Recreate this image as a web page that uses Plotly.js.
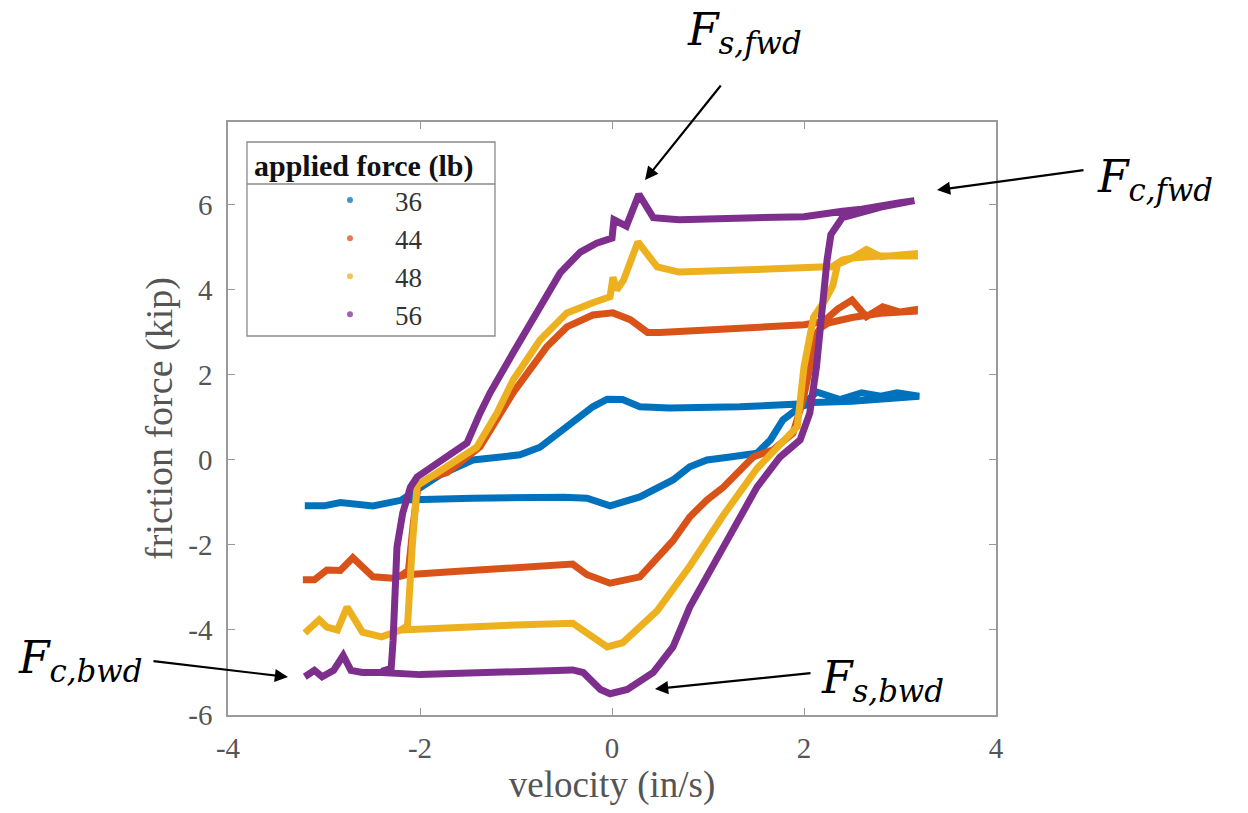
<!DOCTYPE html>
<html>
<head>
<meta charset="utf-8">
<script src="https://cdn.plot.ly/plotly-3.0.1.min.js"></script>
<style>html,body{margin:0;padding:0;background:#fff;}#chart{width:1248px;height:813px;}</style>
</head>
<body>
<div id="chart"></div>
<script>
// ---- data ----
const seriesNames = ['36', '44', '48', '56'];
const seriesColors = ['#0072BD', '#D95319', '#EDB120', '#7E2F8E'];

// 36 lb: upper branch then return (lower) branch
const x36 = [-2.2,-1.79,-1.45,-0.96,-0.75,-0.41,-0.2,-0.05,0.11,0.29,0.6,1.33,2.0,2.13,2.375,2.6,2.8,2.97,3.2,
             3.2,2.5,2.1,1.96,1.78,1.65,1.51,1.23,0.99,0.81,0.635,0.29,-0.02,-0.26,-0.5,-1.45,-2.18,-2.49,-2.83,-3.0,-3.2];
const y36 = [-0.95,-0.35,0.0,0.12,0.3,0.9,1.25,1.43,1.42,1.25,1.22,1.25,1.32,1.6,1.42,1.58,1.5,1.58,1.53,
             1.5,1.38,1.35,1.25,0.94,0.47,0.16,0.07,0.0,-0.16,-0.47,-0.87,-1.08,-0.9,-0.88,-0.9,-0.94,-1.08,-1.0,-1.08,-1.08];

// 44 lb
const x44 = [-2.2,-2.12,-2.07,-2.02,-1.9,-1.72,-1.375,-1.03,-0.68,-0.47,-0.2,0.01,0.19,0.37,0.5,1.0,1.5,2.0,2.2,2.35,2.5,2.65,2.82,3.0,3.15,
             3.15,2.8,2.5,2.25,2.17,2.135,2.07,1.99,1.885,1.68,1.47,1.16,0.99,0.81,0.635,0.29,-0.02,-0.26,-0.41,-1.0,-1.6,-2.14,-2.28,-2.49,-2.7,-2.83,-2.97,-3.1,-3.22];
const y44 = [-2.72,-2.6,-1.5,-0.6,-0.42,-0.3,0.31,1.58,2.66,3.13,3.41,3.46,3.3,3.0,3.0,3.05,3.1,3.18,3.25,3.55,3.76,3.37,3.6,3.48,3.53,
             3.5,3.45,3.35,3.22,3.1,2.99,2.2,1.41,0.63,0.24,0.07,-0.64,-0.94,-1.34,-1.9,-2.75,-2.9,-2.7,-2.45,-2.52,-2.62,-2.7,-2.78,-2.75,-2.3,-2.6,-2.59,-2.82,-2.82];

// 48 lb
const x48 = [-2.2,-2.13,-2.08,-2.03,-1.82,-1.6,-1.41,-1.2,-1.03,-0.75,-0.47,-0.2,-0.02,0.01,0.05,0.12,0.27,0.47,0.7,1.5,2.0,2.3,2.4,2.5,2.65,2.8,3.0,3.15,
             3.15,2.8,2.5,2.35,2.3,2.22,2.1,2.0,1.93,1.73,1.51,1.16,0.81,0.47,0.11,-0.05,-0.3,-0.41,-1.0,-2.0,-2.2,-2.4,-2.6,-2.76,-2.86,-2.97,-3.05,-3.2];
const y48 = [-4.0,-3.9,-2.0,-0.6,-0.3,0.0,0.3,1.1,1.88,2.82,3.46,3.7,3.84,4.3,4.0,4.23,5.13,4.54,4.42,4.48,4.52,4.55,4.7,4.75,4.95,4.78,4.82,4.85,
             4.8,4.8,4.75,4.6,4.1,3.76,3.36,2.19,0.78,0.31,-0.2,-1.3,-2.5,-3.55,-4.3,-4.4,-4.0,-3.84,-3.88,-3.98,-4.0,-4.16,-4.05,-3.46,-4.0,-3.93,-3.76,-4.07];

// 56 lb
const x56 = [-2.4,-2.3,-2.28,-2.24,-2.18,-2.1,-2.03,-1.72,-1.51,-1.375,-1.27,-1.03,-0.78,-0.54,-0.33,-0.16,0.0,0.02,0.15,0.28,0.43,0.7,1.5,2.0,2.4,2.6,3.0,3.15,
             3.15,2.8,2.4,2.28,2.24,2.17,2.13,2.06,1.96,1.75,1.51,1.16,0.81,0.635,0.43,0.16,-0.02,-0.12,-0.3,-0.41,-1.0,-2.0,-2.4,-2.6,-2.72,-2.8,-2.9,-3.02,-3.1,-3.2];
const y56 = [-4.97,-4.9,-4.24,-2.05,-1.25,-0.64,-0.4,0.07,0.4,1.1,1.58,2.52,3.46,4.4,4.89,5.1,5.22,5.65,5.5,6.25,5.7,5.65,5.7,5.72,5.85,5.9,6.05,6.1,
             6.1,5.95,5.7,5.3,4.7,3.13,2.19,1.1,0.47,0.07,-0.64,-2.05,-3.46,-4.4,-5.0,-5.4,-5.5,-5.4,-5.0,-4.94,-4.97,-5.05,-5.0,-5.0,-4.95,-4.6,-4.95,-5.1,-4.95,-5.1];

const xTickVals = [-4, -2, 0, 2, 4];
const xTickText = ['-4', '-2', '0', '2', '4'];
const yTickVals = [-6, -4, -2, 0, 2, 4, 6];
const yTickText = ['-6', '-4', '-2', '0', '2', '4', '6'];

const seriesX = [x36, x44, x48, x56];
const seriesY = [y36, y44, y48, y56];

// ---- build ----
const FONT = 'Liberation Serif';
const traces = [];
seriesNames.forEach((n, i) => {
  traces.push({
    x: seriesX[i], y: seriesY[i], type: 'scatter', mode: 'lines',
    line: {color: seriesColors[i], width: 7},
    showlegend: false, hoverinfo: 'skip'
  });
});
seriesNames.forEach((n, i) => {
  traces.push({
    x: [null], y: [null], type: 'scatter', mode: 'markers', name: n,
    legendgroup: 'g' + i,
    marker: {color: seriesColors[i], size: 6, opacity: 0.75}
  });
});

// plot area in pixels
const L = 228, R = 996, T = 122, B = 715;
const px = v => (v - L) / (R - L);
const py = v => (B - v) / (B - T);

function arrow(tx, ty, hx, hy) {
  return {xref: 'paper', yref: 'paper', x: px(hx), y: py(hy), ax: tx - hx, ay: ty - hy,
          showarrow: true, arrowhead: 2, arrowsize: 1.2, arrowwidth: 2.2, arrowcolor: '#000', text: ''};
}
function label(txt, cx, cy) {
  return {xref: 'paper', yref: 'paper', x: px(cx), y: py(cy), xanchor: 'center', yanchor: 'middle',
          showarrow: false, text: txt, font: {family: 'DejaVu Serif', size: 44, color: '#000'}};
}

const axisCommon = {
  showline: true, linecolor: '#9a9a9a', linewidth: 1.5, mirror: 'ticks',
  ticks: 'inside', ticklen: 7, tickcolor: '#9a9a9a', tickwidth: 1,
  showgrid: false, zeroline: false,
  tickfont: {family: FONT, size: 29, color: '#555'}
};

const layout = {
  width: 1248, height: 813,
  margin: {l: L, r: 1248 - R, t: T, b: 813 - B},
  paper_bgcolor: '#fff', plot_bgcolor: '#fff',
  font: {family: FONT},
  xaxis: Object.assign({}, axisCommon, {
    range: [-4, 4], tickvals: xTickVals, ticktext: xTickText, ticklabelstandoff: 6,
    title: {text: 'velocity (in/s)', font: {family: FONT, size: 37, color: '#555'}, standoff: 3}
  }),
  yaxis: Object.assign({}, axisCommon, {
    range: [-6, 7.95], tickvals: yTickVals, ticktext: yTickText, ticklabelstandoff: 8,
    title: {text: 'friction force (kip)', font: {family: FONT, size: 38, color: '#555'}, standoff: 4}
  }),
  legend: {
    x: px(252), y: py(137), xanchor: 'left', yanchor: 'top',
    bgcolor: 'rgba(0,0,0,0)', borderwidth: 0,
    title: {text: '<b>applied force (lb)</b>', side: 'top', font: {family: FONT, size: 30, color: '#111'}},
    font: {family: FONT, size: 27, color: '#333'},
    traceorder: 'grouped', tracegroupgap: 0, indentation: 53, itemwidth: 80
  },
  shapes: [
    {type: 'rect', xref: 'paper', yref: 'paper', x0: px(247), x1: px(495), y0: py(142), y1: py(336),
     fillcolor: '#fff', line: {color: '#8a8a8a', width: 1.3}, layer: 'above'},
    {type: 'line', xref: 'paper', yref: 'paper', x0: px(247), x1: px(495), y0: py(184), y1: py(184),
     line: {color: '#8a8a8a', width: 1.3}, layer: 'above'}
  ],
  annotations: [
    arrow(722, 84, 645, 180),
    arrow(1085, 170, 937, 190),
    arrow(152, 661, 288, 677),
    arrow(812, 673, 655, 689),
    label('<i>F</i><sub><i>s,fwd</i></sub>', 744, 33),
    label('<i>F</i><sub><i>c,fwd</i></sub>', 1155, 180),
    label('<i>F</i><sub><i>c,bwd</i></sub>', 80, 660),
    label('<i>F</i><sub><i>s,bwd</i></sub>', 882, 680)
  ]
};

Plotly.newPlot('chart', traces, layout, {displayModeBar: false, responsive: false});
</script>
</body>
</html>
